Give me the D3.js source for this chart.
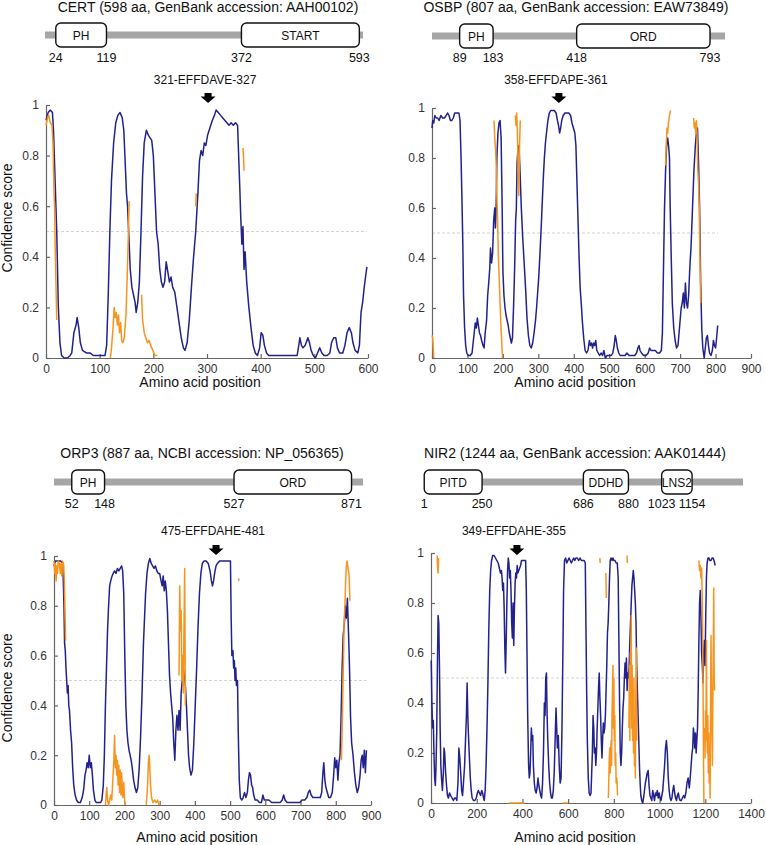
<!DOCTYPE html>
<html>
<head>
<meta charset="utf-8">
<script src="https://cdn.jsdelivr.net/npm/d3@7"></script>
<style>
  body { margin: 0; background: #fff; }
  svg { display: block; font-family: "Liberation Sans", Arial, Helvetica, sans-serif; }
  .axis path, .axis line { stroke: #666; stroke-width: 1.2; }
  .axis text { fill: #333; font-size: 12px; font-family: "Liberation Sans", Arial, Helvetica, sans-serif; }
</style>
</head>
<body>
<svg id="chart" width="766" height="845"></svg>
<script>
const NAVY = '#22228c';
const ORANGE = '#f7941d';

// protein info
const proteinNames = ['CERT', 'OSBP', 'ORP3', 'NIR2'];
const proteinLengths = [598, 807, 887, 1244];
const titles = [
	'CERT (598 aa, GenBank accession: AAH00102)',
	'OSBP (807 aa, GenBank accession: EAW73849)',
	'ORP3 (887 aa, NCBI accession: NP_056365)',
	'NIR2 (1244 aa, GenBank accession: AAK01444)'
];
const motifLabels = ['321-EFFDAVE-327', '358-EFFDAPE-361', '475-EFFDAHE-481', '349-EFFDAHE-355'];
const motifArrowAt = [302, 358, 460, 376];
const xMaxes = [600, 900, 900, 1400];
const xSteps = [100, 100, 100, 200];
const yTicks = [0, 0.2, 0.4, 0.6, 0.8, 1];

const domainsCERT = [{ name: 'PH', start: 24, end: 119 }, { name: 'START', start: 372, end: 593 }];
const domainsOSBP = [{ name: 'PH', start: 89, end: 183 }, { name: 'ORD', start: 418, end: 793 }];
const domainsORP3 = [{ name: 'PH', start: 52, end: 148 }, { name: 'ORD', start: 527, end: 871 }];
const domainsNIR2 = [{ name: 'PITD', start: 1, end: 250 }, { name: 'DDHD', start: 686, end: 880 }, { name: 'LNS2', start: 1023, end: 1154 }];

// confidence scores [aa, score], navy = main prediction
const certNavy = [[0,0.94],[4,0.97],[8,0.98],[12,0.97],[14,0.9],[17,0.7],[20,0.5],[23,0.2],[26,0.06],[29,0.01],[34,0.0],[40,0.0],[45,0.01],[48,0.02],[52,0.1],[56,0.13],[58,0.16],[61,0.12],[64,0.06],[68,0.03],[75,0.02],[82,0.02],[88,0.01],[100,0.01],[110,0.01],[113,0.05],[116,0.25],[119,0.5],[122,0.7],[126,0.85],[130,0.93],[134,0.96],[138,0.97],[142,0.95],[145,0.9],[148,0.75],[150,0.65],[152,0.6],[155,0.45],[157,0.35],[160,0.28],[163,0.25],[166,0.22],[168,0.18],[171,0.22],[174,0.3],[177,0.5],[180,0.72],[183,0.85],[187,0.9],[191,0.88],[194,0.87],[197,0.86],[200,0.8],[203,0.65],[206,0.5],[209,0.45],[212,0.35],[215,0.3],[218,0.28],[221,0.3],[224,0.38],[227,0.34],[230,0.3],[233,0.32],[236,0.28],[240,0.26],[244,0.2],[248,0.14],[252,0.08],[256,0.04],[259,0.03],[263,0.06],[267,0.15],[271,0.28],[275,0.4],[279,0.5],[283,0.65],[286,0.78],[289,0.82],[292,0.8],[295,0.85],[298,0.84],[301,0.88],[304,0.9],[307,0.92],[310,0.94],[314,0.96],[317,0.98],[321,0.97],[325,0.96],[329,0.95],[333,0.94],[337,0.93],[341,0.92],[345,0.93],[349,0.92],[353,0.93],[357,0.92],[359,0.8],[361,0.68],[363,0.55],[365,0.45],[367,0.52],[369,0.35],[371,0.42],[374,0.3],[378,0.2],[382,0.12],[386,0.05],[390,0.02],[394,0.01],[398,0.04],[401,0.1],[404,0.09],[407,0.05],[411,0.02],[415,0.01],[430,0.01],[450,0.01],[468,0.01],[471,0.05],[473,0.08],[476,0.05],[479,0.04],[483,0.05],[488,0.08],[491,0.06],[494,0.03],[498,0.01],[502,0.0],[506,0.02],[510,0.04],[514,0.02],[518,0.01],[524,0.01],[529,0.02],[532,0.06],[536,0.08],[540,0.08],[543,0.04],[547,0.02],[553,0.02],[557,0.05],[561,0.1],[565,0.12],[569,0.1],[572,0.06],[576,0.03],[581,0.02],[584,0.05],[587,0.18],[590,0.22],[593,0.28],[596,0.33],[598,0.36]];
const certOrange = [
	[[0,0.92],[3,0.95],[5,0.96],[8,0.93],[11,0.92],[13,0.85],[15,0.65],[16,0.6],[17,0.45],[18,0.35],[19,0.25],[20,0.15]],
	[[120,0.0],[122,0.04],[125,0.12],[127,0.2],[129,0.16],[131,0.18],[133,0.13],[135,0.17],[137,0.1],[139,0.14],[141,0.07],[143,0.06],[146,0.08],[149,0.17],[151,0.3],[153,0.45],[155,0.62]],
	[[178,0.25],[180,0.15],[183,0.1],[186,0.08],[189,0.06],[192,0.07],[195,0.05],[199,0.03],[203,0.01],[208,0.01]],
	[[279,0.6],[280,0.65]],
	[[367,0.83],[368,0.8],[369,0.74]]
];

const osbpNavy = [[0,0.92],[2,0.95],[5,0.94],[8,0.97],[12,0.96],[16,0.96],[20,0.95],[25,0.97],[30,0.96],[35,0.96],[40,0.97],[44,0.98],[48,0.97],[52,0.95],[56,0.95],[60,0.96],[64,0.98],[70,0.98],[76,0.98],[79,0.95],[82,0.8],[85,0.6],[87,0.45],[89,0.25],[92,0.12],[95,0.05],[98,0.02],[102,0.01],[108,0.01],[113,0.02],[116,0.06],[119,0.1],[122,0.14],[125,0.12],[128,0.16],[131,0.13],[134,0.1],[137,0.09],[140,0.07],[144,0.05],[147,0.04],[150,0.1],[154,0.15],[157,0.25],[160,0.3],[163,0.36],[165,0.44],[168,0.38],[171,0.42],[174,0.55],[177,0.6],[179,0.52],[181,0.6],[183,0.8],[186,0.9],[189,0.94],[192,0.95],[195,0.88],[198,0.6],[200,0.35],[203,0.25],[206,0.2],[209,0.17],[212,0.15],[215,0.13],[218,0.1],[221,0.08],[224,0.06],[227,0.08],[230,0.2],[233,0.35],[236,0.55],[238,0.6],[240,0.78],[243,0.85],[246,0.83],[249,0.72],[252,0.6],[256,0.48],[260,0.38],[264,0.28],[268,0.16],[272,0.09],[276,0.05],[280,0.04],[284,0.06],[288,0.1],[292,0.15],[295,0.2],[298,0.26],[301,0.32],[304,0.4],[308,0.52],[311,0.62],[314,0.72],[317,0.8],[320,0.86],[323,0.9],[327,0.95],[331,0.98],[335,0.99],[340,0.99],[345,0.99],[350,0.98],[354,0.95],[357,0.93],[360,0.9],[363,0.92],[366,0.95],[370,0.97],[375,0.98],[380,0.98],[386,0.98],[391,0.97],[395,0.94],[399,0.92],[403,0.9],[406,0.85],[409,0.7],[412,0.55],[415,0.4],[418,0.28],[421,0.22],[424,0.15],[428,0.08],[432,0.03],[436,0.02],[440,0.03],[444,0.07],[447,0.05],[450,0.06],[453,0.04],[456,0.06],[459,0.05],[462,0.07],[465,0.03],[469,0.02],[473,0.01],[477,0.02],[481,0.01],[485,0.03],[489,0.0],[494,0.01],[500,0.01],[506,0.01],[510,0.02],[514,0.05],[517,0.09],[520,0.07],[523,0.04],[527,0.02],[531,0.01],[538,0.01],[545,0.01],[550,0.02],[556,0.01],[565,0.01],[572,0.01],[577,0.02],[581,0.04],[584,0.05],[587,0.03],[591,0.02],[597,0.01],[604,0.01],[610,0.02],[614,0.04],[618,0.03],[624,0.03],[630,0.03],[636,0.02],[642,0.02],[647,0.03],[650,0.1],[653,0.35],[656,0.6],[659,0.75],[662,0.85],[665,0.88],[668,0.84],[670,0.8],[672,0.6],[675,0.4],[678,0.22],[682,0.12],[686,0.07],[690,0.04],[694,0.05],[697,0.1],[700,0.15],[703,0.2],[706,0.22],[709,0.26],[712,0.2],[715,0.3],[718,0.22],[721,0.2],[724,0.25],[727,0.35],[731,0.45],[735,0.6],[739,0.75],[743,0.85],[746,0.9],[749,0.92],[752,0.78],[755,0.6],[758,0.3],[761,0.12],[764,0.04],[768,0.0],[771,0.04],[774,0.08],[777,0.09],[780,0.05],[783,0.02],[787,0.01],[791,0.03],[794,0.07],[797,0.05],[800,0.04],[803,0.08],[806,0.13]];
const osbpOrange = [
	[[0,0.09],[2,0.08],[4,0.03],[5,0.0]],
	[[175,0.95],[177,0.88],[179,0.84],[181,0.78],[183,0.65],[185,0.55],[187,0.42],[190,0.3],[193,0.18],[196,0.08],[199,0.0]],
	[[235,0.97],[237,0.93],[239,0.98],[241,0.9],[243,0.75],[245,0.65],[247,0.85],[249,0.95]],
	[[659,0.77],[661,0.86],[663,0.92],[665,0.9],[667,0.94],[670,0.97],[673,0.99]],
	[[738,0.96],[740,0.92],[742,0.94],[744,0.9],[746,0.95],[748,0.88],[750,0.75],[752,0.7],[754,0.6],[756,0.4],[758,0.22]]
];

const orp3Navy = [[0,0.96],[4,0.98],[8,0.98],[14,0.98],[19,0.98],[25,0.97],[28,0.82],[30,0.65],[32,0.62],[34,0.55],[36,0.5],[38,0.45],[40,0.48],[42,0.4],[44,0.38],[47,0.3],[50,0.25],[53,0.15],[56,0.08],[60,0.04],[64,0.02],[69,0.01],[75,0.01],[80,0.03],[84,0.06],[88,0.12],[91,0.14],[94,0.17],[97,0.15],[100,0.2],[103,0.15],[106,0.17],[109,0.12],[112,0.06],[116,0.02],[120,0.01],[126,0.01],[132,0.01],[136,0.02],[140,0.08],[143,0.2],[146,0.4],[149,0.55],[152,0.7],[155,0.8],[158,0.88],[161,0.9],[165,0.92],[168,0.93],[172,0.94],[176,0.93],[180,0.95],[184,0.94],[188,0.95],[192,0.96],[195,0.94],[198,0.85],[201,0.6],[204,0.4],[207,0.3],[210,0.25],[213,0.22],[216,0.2],[219,0.18],[222,0.15],[226,0.1],[230,0.07],[234,0.05],[238,0.07],[242,0.15],[246,0.28],[250,0.45],[254,0.65],[257,0.75],[260,0.85],[264,0.93],[268,0.97],[272,0.99],[276,0.97],[280,0.96],[284,0.95],[288,0.96],[292,0.94],[296,0.93],[300,0.93],[304,0.9],[307,0.88],[310,0.92],[313,0.86],[316,0.9],[319,0.86],[322,0.78],[325,0.65],[328,0.52],[331,0.45],[334,0.4],[337,0.35],[340,0.25],[343,0.18],[346,0.3],[349,0.36],[352,0.3],[355,0.38],[358,0.3],[361,0.45],[364,0.5],[367,0.55],[370,0.52],[373,0.48],[376,0.4],[379,0.3],[382,0.2],[385,0.15],[389,0.12],[393,0.14],[397,0.25],[401,0.4],[405,0.55],[409,0.72],[413,0.85],[417,0.93],[421,0.97],[426,0.98],[432,0.98],[438,0.97],[443,0.94],[447,0.9],[450,0.88],[453,0.9],[456,0.93],[460,0.96],[464,0.97],[470,0.98],[476,0.98],[483,0.98],[490,0.98],[497,0.98],[501,0.98],[503,0.75],[505,0.6],[508,0.62],[510,0.55],[512,0.58],[514,0.5],[516,0.55],[518,0.48],[521,0.5],[523,0.3],[526,0.1],[529,0.03],[533,0.02],[537,0.03],[541,0.05],[545,0.03],[549,0.05],[552,0.1],[555,0.13],[558,0.12],[561,0.08],[564,0.07],[567,0.04],[571,0.02],[577,0.02],[583,0.01],[589,0.01],[593,0.04],[597,0.02],[602,0.02],[610,0.02],[618,0.01],[626,0.01],[634,0.01],[642,0.01],[648,0.02],[652,0.04],[656,0.02],[662,0.01],[670,0.01],[680,0.01],[690,0.01],[698,0.01],[704,0.02],[712,0.02],[718,0.03],[722,0.05],[726,0.06],[730,0.04],[735,0.03],[742,0.03],[750,0.03],[756,0.03],[760,0.05],[763,0.12],[766,0.17],[769,0.1],[772,0.07],[776,0.05],[780,0.03],[785,0.03],[790,0.05],[794,0.12],[797,0.19],[800,0.15],[803,0.18],[806,0.1],[809,0.17],[812,0.2],[815,0.35],[818,0.55],[821,0.68],[824,0.72],[827,0.8],[830,0.75],[833,0.83],[836,0.7],[839,0.55],[842,0.35],[845,0.25],[849,0.2],[853,0.13],[857,0.08],[861,0.05],[865,0.07],[869,0.12],[872,0.18],[875,0.2],[878,0.15],[881,0.22],[884,0.13],[887,0.22]];
const orp3Orange = [
	[[0,0.98],[2,0.93],[4,0.97],[6,0.9],[8,0.96],[10,0.93],[12,0.98],[15,0.97],[18,0.93],[20,0.97],[22,0.92],[24,0.98],[27,0.97],[29,0.92],[31,0.8],[33,0.66]],
	[[146,0.0],[148,0.04],[150,0.07],[152,0.02],[155,0.0],[158,0.02],[161,0.04],[164,0.02],[167,0.1],[170,0.18],[172,0.28],[174,0.15],[176,0.2],[178,0.12],[180,0.18],[182,0.08],[184,0.16],[186,0.05],[188,0.14],[190,0.04],[192,0.13],[195,0.03],[198,0.09],[201,0.0]],
	[[262,0.0],[264,0.04],[266,0.09],[268,0.17],[270,0.2],[272,0.15],[274,0.08],[277,0.03],[281,0.01],[286,0.02],[290,0.01],[294,0.02],[298,0.0]],
	[[355,0.52],[357,0.88],[359,0.7],[361,0.78],[363,0.5],[365,0.6],[367,0.45],[369,0.7],[371,0.95],[373,0.4]],
	[[524,0.91],[525,0.9]],
	[[816,0.18],[818,0.3],[820,0.45],[822,0.6],[824,0.75],[826,0.8],[828,0.9],[830,0.96],[832,0.98],[834,0.96],[836,0.94],[838,0.92],[840,0.82]]
];

const nir2Navy = [[1,0.57],[4,0.4],[7,0.3],[10,0.33],[13,0.2],[16,0.1],[19,0.07],[22,0.15],[25,0.28],[28,0.55],[31,0.75],[34,0.72],[37,0.55],[40,0.3],[43,0.15],[46,0.1],[50,0.05],[54,0.12],[57,0.22],[60,0.2],[64,0.12],[68,0.07],[72,0.03],[76,0.02],[81,0.04],[86,0.03],[92,0.02],[98,0.01],[103,0.02],[108,0.02],[113,0.01],[118,0.08],[122,0.22],[126,0.18],[130,0.12],[134,0.05],[138,0.03],[142,0.08],[147,0.15],[151,0.25],[155,0.35],[158,0.48],[161,0.35],[164,0.27],[168,0.18],[172,0.1],[176,0.05],[180,0.02],[186,0.01],[192,0.01],[198,0.02],[203,0.04],[207,0.05],[212,0.04],[217,0.03],[222,0.05],[226,0.04],[230,0.02],[233,0.01],[237,0.05],[241,0.15],[245,0.3],[249,0.48],[253,0.7],[257,0.85],[261,0.93],[265,0.97],[270,0.99],[276,0.99],[282,0.98],[288,0.97],[294,0.96],[299,0.94],[304,0.92],[308,0.93],[311,0.9],[314,0.85],[317,0.88],[320,0.78],[323,0.62],[326,0.52],[329,0.65],[332,0.8],[335,0.93],[338,0.98],[341,0.96],[344,0.9],[347,0.93],[350,0.85],[353,0.72],[356,0.66],[359,0.8],[362,0.63],[365,0.78],[368,0.88],[371,0.92],[374,0.9],[377,0.95],[380,0.92],[384,0.93],[388,0.94],[392,0.95],[396,0.97],[400,0.97],[405,0.97],[410,0.97],[414,0.97],[417,0.85],[420,0.6],[423,0.35],[427,0.15],[430,0.1],[433,0.12],[436,0.2],[439,0.3],[442,0.25],[445,0.27],[448,0.15],[452,0.08],[456,0.05],[460,0.04],[464,0.06],[468,0.1],[472,0.07],[476,0.05],[480,0.03],[484,0.02],[488,0.08],[492,0.2],[496,0.4],[499,0.35],[502,0.5],[505,0.52],[508,0.35],[511,0.25],[515,0.15],[519,0.08],[523,0.04],[527,0.02],[531,0.02],[535,0.05],[539,0.12],[543,0.25],[547,0.38],[550,0.3],[553,0.22],[557,0.27],[561,0.15],[565,0.08],[569,0.1],[573,0.3],[577,0.6],[580,0.85],[584,0.97],[589,0.98],[594,0.96],[599,0.97],[604,0.98],[609,0.97],[614,0.96],[619,0.97],[624,0.98],[629,0.97],[634,0.98],[640,0.98],[646,0.97],[652,0.98],[658,0.97],[664,0.97],[670,0.97],[675,0.96],[678,0.7],[681,0.45],[684,0.25],[688,0.1],[692,0.04],[696,0.03],[700,0.04],[703,0.12],[706,0.2],[709,0.35],[712,0.3],[715,0.2],[718,0.22],[721,0.15],[724,0.2],[727,0.3],[730,0.38],[733,0.46],[736,0.52],[739,0.42],[742,0.35],[745,0.25],[748,0.18],[751,0.26],[754,0.32],[757,0.28],[760,0.3],[763,0.35],[766,0.45],[769,0.55],[772,0.68],[775,0.72],[778,0.8],[781,0.9],[784,0.97],[788,0.98],[792,0.97],[796,0.98],[800,0.97],[805,0.97],[810,0.96],[815,0.96],[819,0.9],[822,0.65],[825,0.4],[828,0.2],[831,0.15],[834,0.2],[837,0.3],[840,0.38],[843,0.42],[846,0.5],[849,0.56],[852,0.5],[855,0.58],[858,0.45],[861,0.52],[864,0.5],[867,0.55],[870,0.65],[873,0.72],[876,0.8],[879,0.87],[882,0.9],[885,0.93],[888,0.9],[891,0.85],[894,0.8],[897,0.72],[900,0.55],[903,0.45],[906,0.35],[909,0.25],[912,0.15],[915,0.08],[918,0.03],[922,0.01],[926,0.0],[930,0.02],[934,0.05],[938,0.08],[942,0.1],[946,0.12],[950,0.13],[954,0.07],[958,0.03],[962,0.02],[966,0.01],[970,0.05],[974,0.03],[978,0.01],[982,0.04],[986,0.03],[990,0.05],[994,0.02],[998,0.04],[1002,0.02],[1006,0.01],[1010,0.03],[1014,0.05],[1018,0.1],[1022,0.15],[1026,0.22],[1030,0.25],[1034,0.2],[1038,0.1],[1042,0.05],[1046,0.02],[1050,0.01],[1054,0.02],[1058,0.05],[1062,0.07],[1066,0.04],[1070,0.02],[1074,0.01],[1078,0.03],[1082,0.04],[1086,0.02],[1090,0.01],[1095,0.01],[1100,0.02],[1105,0.03],[1110,0.02],[1115,0.04],[1120,0.08],[1125,0.1],[1130,0.06],[1134,0.1],[1138,0.15],[1142,0.2],[1145,0.22],[1148,0.3],[1151,0.27],[1154,0.22],[1157,0.28],[1160,0.2],[1163,0.25],[1166,0.3],[1169,0.45],[1172,0.65],[1175,0.8],[1178,0.85],[1181,0.75],[1184,0.6],[1187,0.55],[1190,0.48],[1193,0.6],[1196,0.65],[1199,0.55],[1202,0.75],[1205,0.9],[1208,0.96],[1212,0.98],[1216,0.98],[1220,0.97],[1225,0.97],[1230,0.98],[1234,0.98],[1238,0.97],[1241,0.96],[1243,0.95]];
const nir2Orange = [
	[[27,0.99],[29,0.94],[31,0.92],[33,0.98]],
	[[340,0.0],[409,0.0]],
	[[577,0.0],[599,0.0]],
	[[739,0.98],[740,0.96]],
	[[765,0.92],[766,0.87],[767,0.82]],
	[[858,0.99],[859,0.96]],
	[[776,0.02],[778,0.1],[780,0.18],[782,0.22],[784,0.12],[786,0.2],[788,0.25],[790,0.15],[792,0.35],[794,0.45],[796,0.55],[798,0.3],[800,0.5],[802,0.25],[804,0.35],[806,0.15],[808,0.2],[810,0.08],[813,0.1],[816,0.03]],
	[[866,0.3],[868,0.55],[870,0.25],[872,0.6],[874,0.4],[876,0.75],[878,0.3],[880,0.55],[882,0.25],[884,0.45],[886,0.2],[888,0.5],[890,0.15],[892,0.3],[894,0.1],[896,0.4],[898,0.62],[900,0.25]],
	[[1172,0.97],[1175,0.93],[1178,0.95],[1181,0.9],[1184,0.94],[1187,0.8],[1190,0.5],[1192,0.2],[1194,0.0]],
	[[1197,0.3],[1199,0.18],[1201,0.37],[1203,0.25],[1205,0.65],[1207,0.3],[1209,0.2],[1211,0.35],[1213,0.12],[1215,0.28],[1217,0.08],[1219,0.2],[1221,0.02],[1223,0.35],[1225,0.67],[1227,0.45],[1229,0.3],[1231,0.15],[1233,0.4],[1235,0.6],[1237,0.86],[1239,0.5],[1241,0.45]]
];

const domainSets = [domainsCERT, domainsOSBP, domainsORP3, domainsNIR2];
const navySeries = [certNavy, osbpNavy, orp3Navy, nir2Navy];
const orangeSeries = [certOrange, osbpOrange, orp3Orange, nir2Orange];

// page layout, one entry per panel
const layout = [
	{ plot: [46, 368, 358, 105], titleX: 208, titleY: 12, mapY: 35, map: [43, 362], bar: [45, 363], numY: 62, motifY: 84, arrowY: 103, yTitle: [12, 218], xTitle: [200, 387] },
	{ plot: [432, 751, 358, 108], titleX: 576, titleY: 12, mapY: 36, map: [428, 715], bar: [432, 725], numY: 62, motifY: 84, arrowY: 103, yTitle: null, xTitle: [575, 387] },
	{ plot: [54, 371, 805, 556], titleX: 202, titleY: 458, mapY: 482, map: [54, 357], bar: [54, 363], numY: 508, motifY: 535, arrowY: 555, yTitle: [12, 688], xTitle: [197, 842] },
	{ plot: [431, 751, 803, 553], titleX: 575, titleY: 458, mapY: 482, map: [424, 713], bar: [424, 743], numY: 508, motifY: 535, arrowY: 555, yTitle: null, xTitle: [575, 842] }
];

const svg = d3.select('#chart');

function drawPanel(i) {
	const L = layout[i];
	const len = proteinLengths[i];
	const g = svg.append('g').attr('class', `panel panel-${proteinNames[i]}`);

	// title
	g.append('text')
		.attr('x', L.titleX).attr('y', L.titleY)
		.attr('text-anchor', 'middle')
		.style('font-size', '14px').style('fill', '#111')
		.text(titles[i]);

	// domain map
	const mx = d3.scaleLinear().domain([0, len]).range(L.map);
	g.append('rect')
		.attr('x', L.bar[0]).attr('y', L.mapY - 3.5)
		.attr('width', L.bar[1] - L.bar[0]).attr('height', 7)
		.attr('fill', '#a6a6a6');

	const dom = g.selectAll('g.domain-box')
		.data(domainSets[i])
		.enter().append('g').attr('class', 'domain-box');
	dom.append('rect')
		.attr('x', d => mx(d.start)).attr('y', L.mapY - 12)
		.attr('width', d => mx(d.end) - mx(d.start)).attr('height', 24)
		.attr('rx', 5)
		.attr('fill', '#fff').attr('stroke', '#111').attr('stroke-width', 1.4);
	dom.append('text')
		.attr('x', d => (mx(d.start) + mx(d.end)) / 2).attr('y', L.mapY + 4.5)
		.attr('text-anchor', 'middle')
		.style('font-size', '12px').style('fill', '#111')
		.text(d => d.name);
	dom.append('text')
		.attr('x', d => mx(d.start)).attr('y', L.numY)
		.attr('text-anchor', 'middle').style('font-size', '12.5px').style('fill', '#111')
		.text(d => d.start);
	dom.append('text')
		.attr('x', d => mx(d.end)).attr('y', L.numY)
		.attr('text-anchor', 'middle').style('font-size', '12.5px').style('fill', '#111')
		.text(d => d.end);

	// plot scales
	const [px0, px1, py0, py1] = L.plot;
	const x = d3.scaleLinear().domain([0, xMaxes[i]]).range([px0, px1]);
	const y = d3.scaleLinear().domain([0, 1]).range([py0, py1]);

	// motif label + arrow
	const ax = x(motifArrowAt[i]);
	g.append('text')
		.attr('x', ax - 3).attr('y', L.motifY)
		.attr('text-anchor', 'middle')
		.style('font-size', '12px').style('fill', '#111')
		.text(motifLabels[i]);
	const t = L.arrowY;
	g.append('path')
		.attr('d', `M${ax - 3.5},${t - 10}L${ax + 3.5},${t - 10}L${ax + 3.5},${t - 6.5}L${ax + 7.5},${t - 6.5}L${ax},${t}L${ax - 7.5},${t - 6.5}L${ax - 3.5},${t - 6.5}Z`)
		.attr('fill', '#000');

	// 0.5 threshold
	g.append('line')
		.attr('x1', x(0)).attr('x2', x(len))
		.attr('y1', y(0.5)).attr('y2', y(0.5))
		.attr('stroke', '#c8c8d0').attr('stroke-width', 0.8)
		.attr('stroke-dasharray', '3,2');

	// axes
	g.append('g').attr('class', 'axis')
		.attr('transform', `translate(0,${py0})`)
		.call(d3.axisBottom(x).tickValues(d3.range(0, xMaxes[i] + 1, xSteps[i]))
			.tickFormat(d3.format('d'))
			.tickSizeInner(-4).tickSizeOuter(0).tickPadding(6));
	g.append('g').attr('class', 'axis')
		.attr('transform', `translate(${px0},0)`)
		.call(d3.axisLeft(y).tickValues(yTicks).tickFormat(d3.format('~g'))
			.tickSizeInner(-4).tickSizeOuter(0).tickPadding(7));

	// series
	const line = d3.line().x(d => x(d[0])).y(d => y(d[1]));
	g.append('path')
		.attr('d', line(navySeries[i]))
		.attr('fill', 'none').attr('stroke', NAVY).attr('stroke-width', 1.5)
		.attr('stroke-linejoin', 'round');
	g.selectAll('path.orange')
		.data(orangeSeries[i])
		.enter().append('path').attr('class', 'orange')
		.attr('d', line)
		.attr('fill', 'none').attr('stroke', ORANGE).attr('stroke-width', 1.5)
		.attr('stroke-linejoin', 'round');

	// axis titles
	if (L.yTitle) {
		g.append('text')
			.attr('transform', `translate(${L.yTitle[0]},${L.yTitle[1]}) rotate(-90)`)
			.attr('text-anchor', 'middle')
			.style('font-size', '14px').style('fill', '#111')
			.text('Confidence score');
	}
	g.append('text')
		.attr('x', L.xTitle[0]).attr('y', L.xTitle[1])
		.attr('text-anchor', 'middle')
		.style('font-size', '14px').style('fill', '#111')
		.text('Amino acid position');
}

proteinNames.forEach((d, i) => drawPanel(i));
</script>
</body>
</html>
